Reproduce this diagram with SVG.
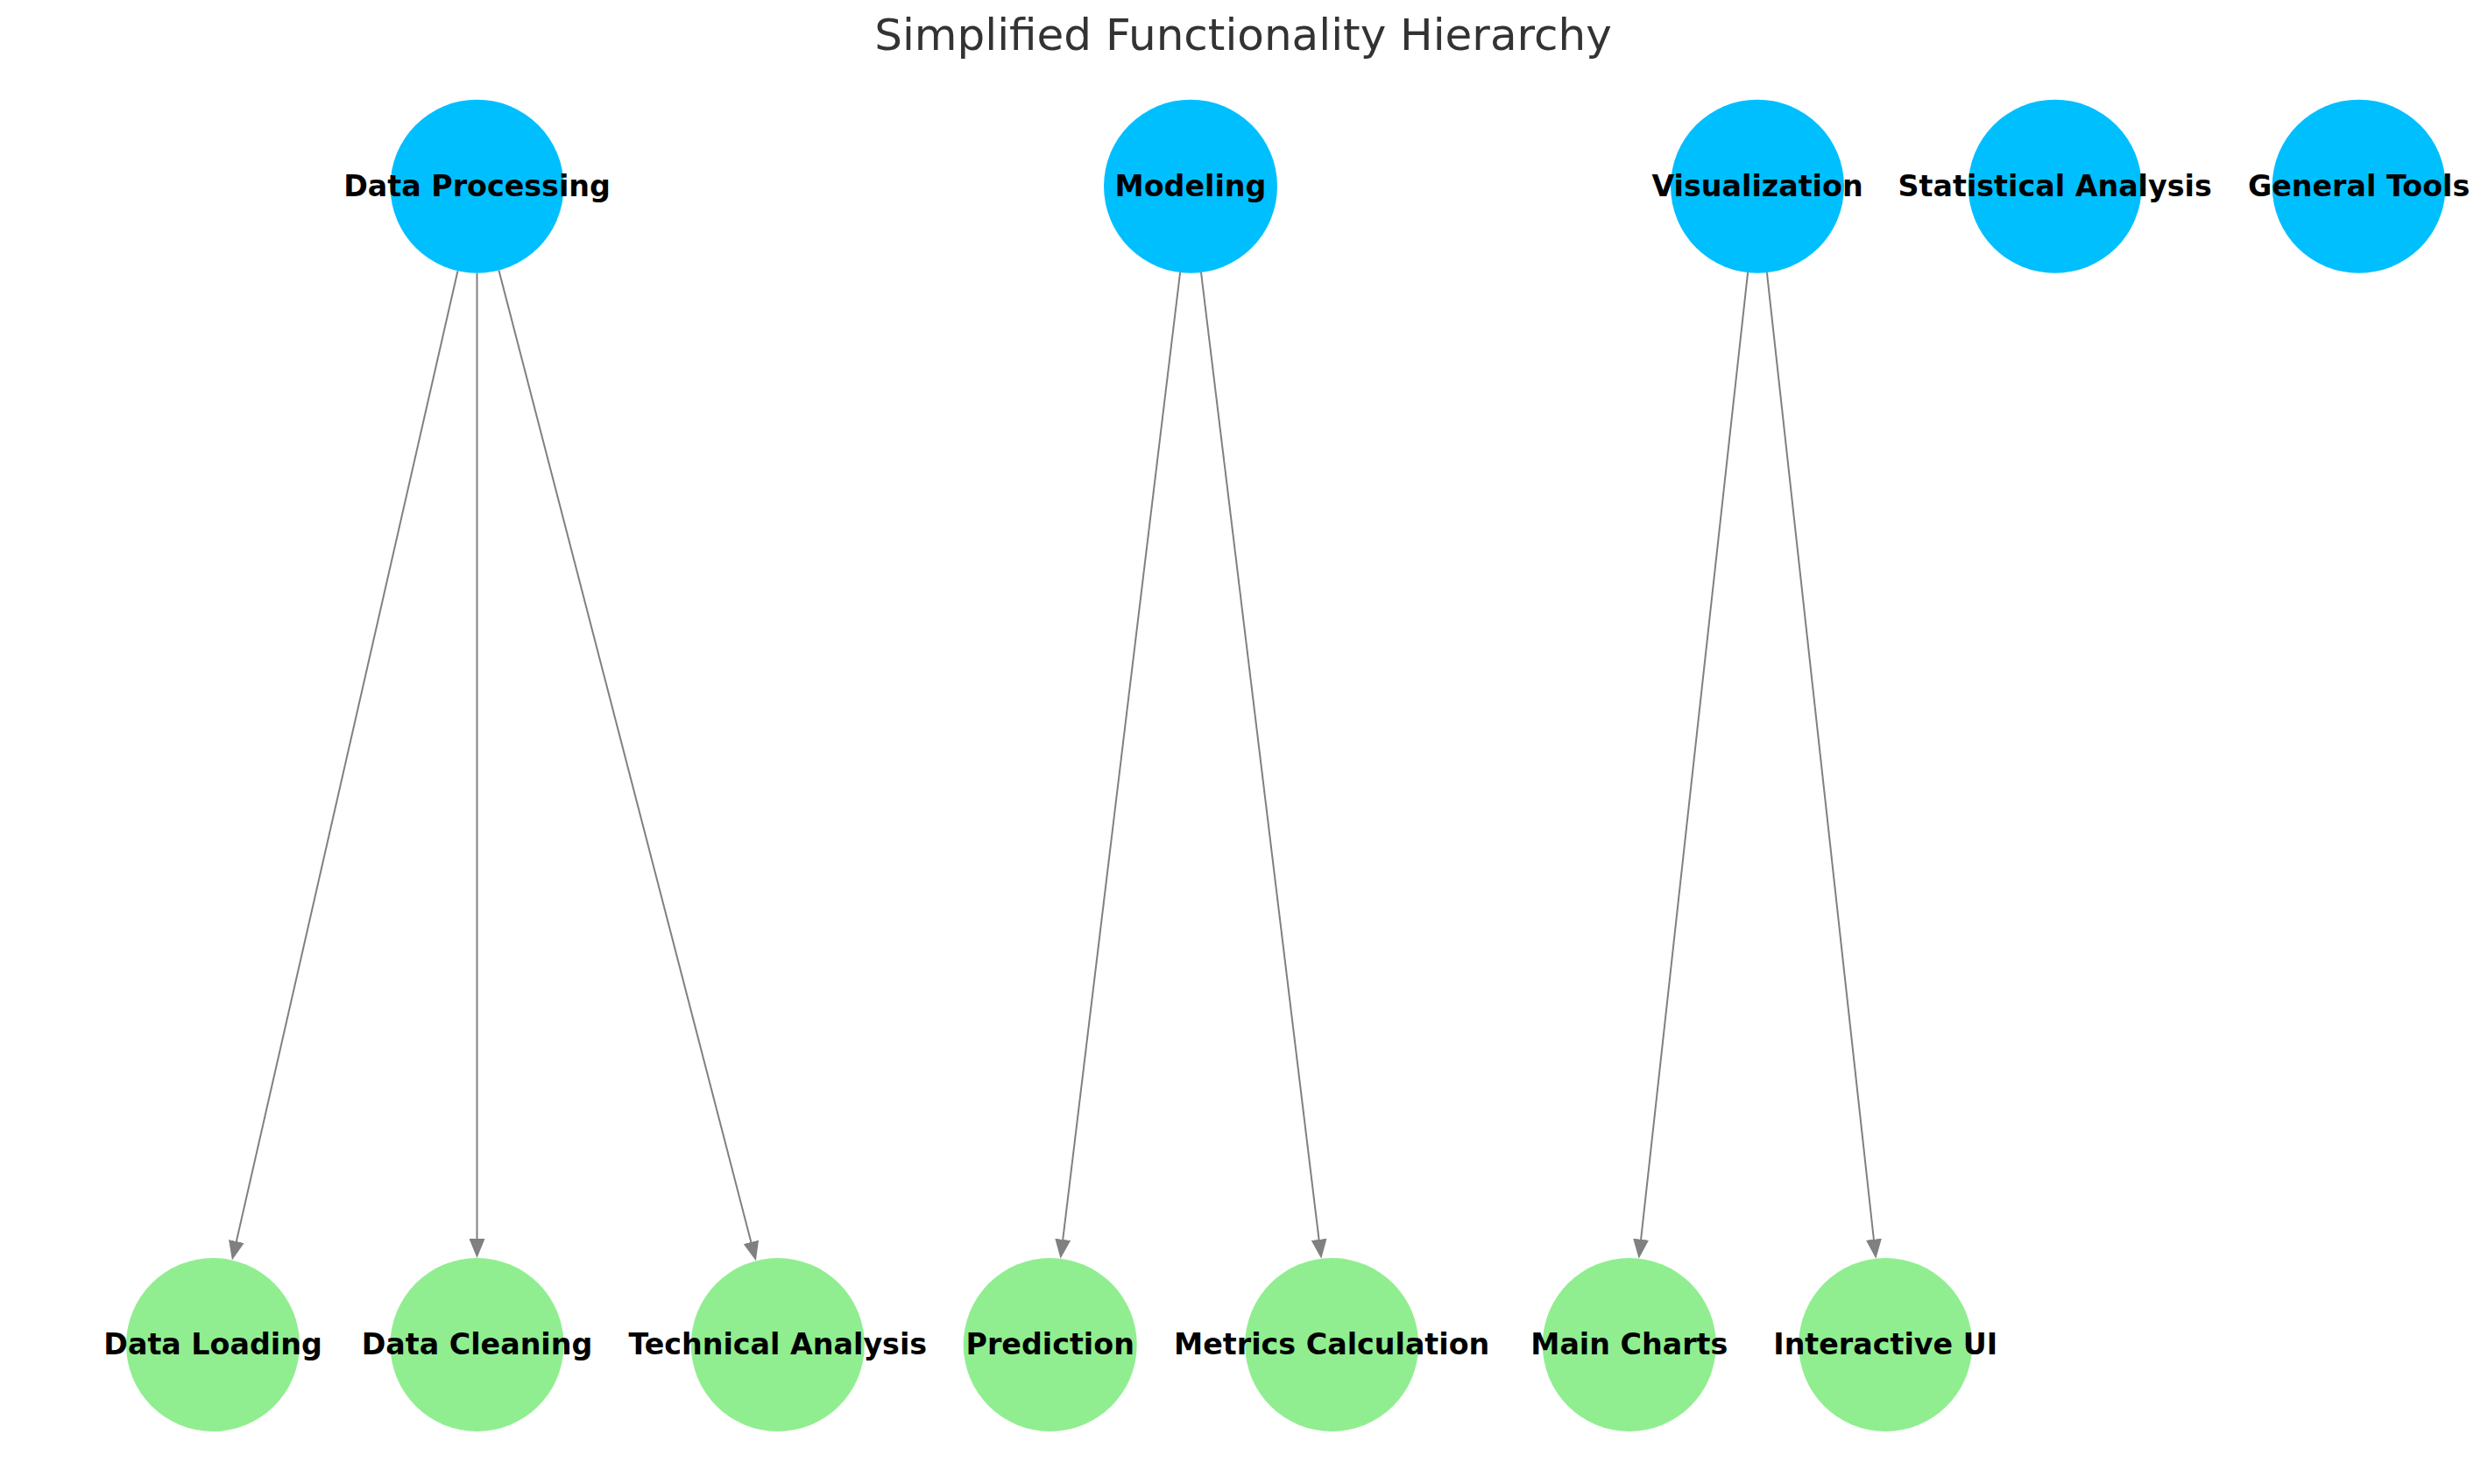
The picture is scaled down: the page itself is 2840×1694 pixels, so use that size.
<svg xmlns="http://www.w3.org/2000/svg" width="2840" height="1694" viewBox="0 0 2840 1694">
<style>
.top{fill:#00BFFF}
.sub{fill:#90EE90}
.lbl{font-family:"DejaVu Sans",sans-serif;font-weight:bold;font-size:33.3px;fill:#000;text-anchor:middle}
.title{font-family:"DejaVu Sans",sans-serif;font-size:50px;fill:#333;text-anchor:middle}
.edge{stroke:#808080;stroke-width:2;fill:none}
</style>
<defs>
<marker id="arr" markerUnits="userSpaceOnUse" markerWidth="22" markerHeight="18" viewBox="0 0 22 18" refX="11" refY="9" orient="auto">
<path d="M0,0 L22,9 L0,18 z" fill="#808080"/>
</marker>
</defs>
<rect width="2840" height="1694" fill="#fff"/>
<text class="title" x="1419" y="57">Simplified Functionality Hierarchy</text>
<g id="connectors">
<line class="edge" x1="522.5" y1="309.2" x2="267.4" y2="1427.8" marker-end="url(#arr)"/>
<line class="edge" x1="544.5" y1="311.7" x2="544.5" y2="1425" marker-end="url(#arr)"/>
<line class="edge" x1="569.4" y1="308.5" x2="860.1" y2="1428.5" marker-end="url(#arr)"/>
<line class="edge" x1="1347.1" y1="311" x2="1211.9" y2="1425.8" marker-end="url(#arr)"/>
<line class="edge" x1="1371" y1="311" x2="1506.9" y2="1425.8" marker-end="url(#arr)"/>
<line class="edge" x1="1995.1" y1="311.1" x2="1871.9" y2="1425.7" marker-end="url(#arr)"/>
<line class="edge" x1="2016.9" y1="311.1" x2="2140.1" y2="1425.7" marker-end="url(#arr)"/>
</g>
<g id="node-data-processing"><circle class="top" cx="544.5" cy="212.7" r="99"/><text class="lbl" x="544.5" y="224">Data Processing</text></g>
<g id="node-modeling"><circle class="top" cx="1359" cy="212.7" r="99"/><text class="lbl" x="1359" y="224">Modeling</text></g>
<g id="node-visualization"><circle class="top" cx="2006" cy="212.7" r="99"/><text class="lbl" x="2006" y="224">Visualization</text></g>
<g id="node-statistical-analysis"><circle class="top" cx="2345.7" cy="212.7" r="99"/><text class="lbl" x="2345.7" y="224">Statistical Analysis</text></g>
<g id="node-general-tools"><circle class="top" cx="2692.6" cy="212.7" r="99"/><text class="lbl" x="2692.6" y="224">General Tools</text></g>
<g id="node-data-loading"><circle class="sub" cx="243" cy="1535" r="99"/><text class="lbl" x="243" y="1546">Data Loading</text></g>
<g id="node-data-cleaning"><circle class="sub" cx="544.5" cy="1535" r="99"/><text class="lbl" x="544.5" y="1546">Data Cleaning</text></g>
<g id="node-technical-analysis"><circle class="sub" cx="887.8" cy="1535" r="99"/><text class="lbl" x="887.8" y="1546">Technical Analysis</text></g>
<g id="node-prediction"><circle class="sub" cx="1198.7" cy="1535" r="99"/><text class="lbl" x="1198.7" y="1546">Prediction</text></g>
<g id="node-metrics-calculation"><circle class="sub" cx="1520.2" cy="1535" r="99"/><text class="lbl" x="1520.2" y="1546">Metrics Calculation</text></g>
<g id="node-main-charts"><circle class="sub" cx="1859.8" cy="1535" r="99"/><text class="lbl" x="1859.8" y="1546">Main Charts</text></g>
<g id="node-interactive-ui"><circle class="sub" cx="2152.2" cy="1535" r="99"/><text class="lbl" x="2152.2" y="1546">Interactive UI</text></g>
</svg>
